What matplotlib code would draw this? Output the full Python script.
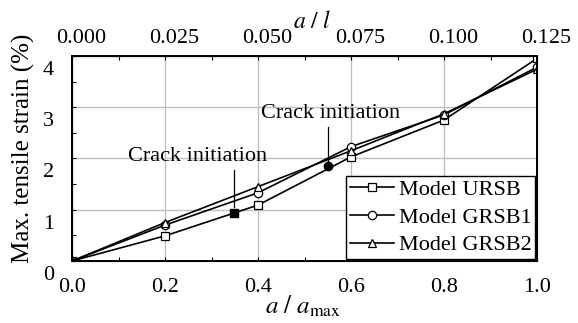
import numpy as np
import matplotlib
matplotlib.use('Agg')
import matplotlib.pyplot as plt
import matplotlib.transforms as mtransforms

# data
x = [0.0, 0.2, 0.4, 0.6, 0.8, 1.0]
ursb = [0.0, 0.49, 1.09, 2.03, 2.75, 3.95]
grsb1 = [0.0, 0.70, 1.33, 2.23, 2.85, 3.78]
grsb2 = [0.0, 0.75, 1.45, 2.15, 2.87, 3.74]
crack1 = (0.349, 0.94)
crack2 = (0.551, 1.85)
top_ticks = [0.000, 0.025, 0.050, 0.075, 0.100, 0.125]

plt.rcParams['font.family'] = ['Liberation Serif', 'DejaVu Serif']
plt.rcParams['mathtext.fontset'] = 'stix'
fs = 16

fig = plt.figure(figsize=(5.78, 3.23), dpi=100)
ax = fig.add_axes([0.1246, 0.192, 0.8045, 0.635])

mk = dict(color='black', lw=1.2, markerfacecolor='white', markeredgecolor='black',
          markeredgewidth=0.9, markersize=6)
ax.plot(x, ursb, marker='s', label='Model URSB', **mk)
ax.plot(x, grsb1, marker='o', label='Model GRSB1', **mk)
ax.plot(x, grsb2, marker='^', label='Model GRSB2', **mk)

# crack initiation points
ax.plot(*crack1, marker='s', color='black', markersize=6, zorder=5)
ax.plot(*crack2, marker='o', color='black', markersize=6, zorder=5)

ax.text(0.271, 2.03, 'Crack initiation', ha='center', va='center', fontsize=fs)
ax.plot([crack1[0], crack1[0]], [1.77, 1.05], color='black', lw=0.9)
ax.text(0.555, 2.87, 'Crack initiation', ha='center', va='center', fontsize=fs)
ax.plot([crack2[0], crack2[0]], [2.61, 1.93], color='black', lw=0.9)

ax.set_xlim(0, 1)
ax.set_ylim(0, 4)
ax.set_xticks(np.arange(0, 1.01, 0.2))
ax.set_xticks(np.arange(0, 1.01, 0.1), minor=True)
ax.set_yticks(range(5))
ax.set_yticks(np.arange(0, 4.01, 0.5), minor=True)
ax.set_xticklabels(['%.1f' % v for v in np.arange(0, 1.01, 0.2)], fontsize=fs)
ax.set_yticklabels([str(v) for v in range(5)], fontsize=fs)
ax.tick_params(which='both', direction='in', length=3, width=0.8)
ax.tick_params(axis='x', which='major', pad=12)
ax.tick_params(axis='y', which='major', pad=13)
ax.grid(True, which='major', color='#c0c0c0', lw=1.0)
ax.set_axisbelow(True)
for s in ax.spines.values():
    s.set_linewidth(1.4)

# y tick labels sit a bit below their gridlines in the original
off = mtransforms.ScaledTranslation(0, -12 / 100, fig.dpi_scale_trans)
for lab in ax.get_yticklabels():
    lab.set_transform(lab.get_transform() + off)

fig.text(23 / 578, 1 - 148 / 323, 'Max. tensile strain (%)', rotation=90,
         ha='center', va='center', fontsize=18)
fig.text(303 / 578, 1 - 314 / 323, r'$a\ /\ a_{\mathrm{max}}$', ha='center',
         va='baseline', fontsize=18)

# top axis: a / l
ax2 = ax.twiny()
ax2.set_xlim(0, 0.125)
ax2.set_xticks(top_ticks)
ax2.set_xticklabels(['%.3f' % v for v in top_ticks], fontsize=fs)
ax2.set_xticks(np.arange(0, 0.1251, 0.0125), minor=True)
ax2.tick_params(which='both', direction='in', length=3, width=0.8)
ax2.tick_params(axis='x', which='major', pad=6)
off2 = mtransforms.ScaledTranslation(9 / 100, 0, fig.dpi_scale_trans)
for lab in ax2.get_xticklabels():
    lab.set_transform(lab.get_transform() + off2)
ax.text(0.516, 1.166, r'$a\ /\ l$', transform=ax.transAxes, ha='center',
        va='center', fontsize=17)

leg = ax.legend(loc='lower right', fontsize=fs, frameon=True, fancybox=False,
                edgecolor='black', framealpha=1, handlelength=2.0,
                borderpad=0.15, labelspacing=0.32, handletextpad=0.2,
                borderaxespad=0.1)
leg.get_frame().set_linewidth(1.0)

fig.savefig('out.png', dpi=100)
